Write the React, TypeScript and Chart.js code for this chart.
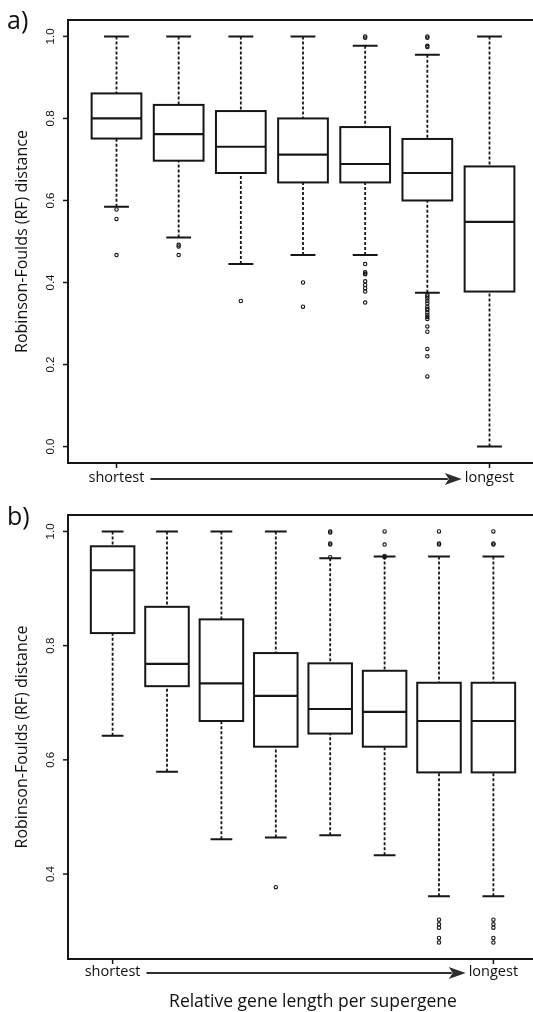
import React, { useEffect, useRef } from 'react';
import { Chart, registerables } from 'chart.js';

Chart.register(...registerables);

// ---------- Panel a) : 7 groups ----------
const topGroups = ['1', '2', '3', '4', '5', '6', '7'];
const topWhiskerHigh = [1.0, 1.0, 1.0, 1.0, 0.977, 0.955, 1.0];
const topQ3 = [0.861, 0.833, 0.818, 0.8, 0.779, 0.75, 0.683];
const topMedian = [0.8, 0.762, 0.731, 0.712, 0.689, 0.667, 0.548];
const topQ1 = [0.751, 0.697, 0.667, 0.644, 0.644, 0.6, 0.378];
const topWhiskerLow = [0.585, 0.51, 0.445, 0.467, 0.467, 0.375, 0.0];
const topOutliers = [
  [0.578, 0.555, 0.467],
  [0.492, 0.488, 0.467],
  [0.355],
  [0.4, 0.341],
  [1.0, 0.997, 0.445, 0.425, 0.422, 0.42, 0.403, 0.394, 0.386, 0.378, 0.351],
  [1.0, 0.997, 0.977, 0.974, 0.37, 0.366, 0.361, 0.355, 0.349, 0.341, 0.336, 0.333, 0.327, 0.321, 0.316, 0.311, 0.293, 0.28, 0.238, 0.22, 0.171],
  [],
];
const topYTicks = [0.0, 0.2, 0.4, 0.6, 0.8, 1.0];
const topYTickLabels = ['0.0', '0.2', '0.4', '0.6', '0.8', '1.0'];

// ---------- Panel b) : 8 groups ----------
const bottomGroups = ['1', '2', '3', '4', '5', '6', '7', '8'];
const bottomWhiskerHigh = [1.0, 1.0, 1.0, 1.0, 0.953, 0.956, 0.956, 0.956];
const bottomQ3 = [0.974, 0.868, 0.846, 0.787, 0.769, 0.756, 0.735, 0.735];
const bottomMedian = [0.932, 0.768, 0.734, 0.712, 0.689, 0.684, 0.668, 0.668];
const bottomQ1 = [0.822, 0.729, 0.668, 0.623, 0.646, 0.623, 0.578, 0.578];
const bottomWhiskerLow = [0.642, 0.579, 0.461, 0.464, 0.468, 0.433, 0.361, 0.361];
const bottomOutliers = [
  [],
  [],
  [],
  [0.377],
  [1.0, 0.998, 0.979, 0.977, 0.955],
  [1.0, 0.977, 0.957, 0.955],
  [1.0, 0.979, 0.977, 0.32, 0.312, 0.306, 0.288, 0.28],
  [1.0, 0.979, 0.977, 0.32, 0.312, 0.306, 0.288, 0.28],
];
const bottomYTicks = [0.4, 0.6, 0.8, 1.0];
const bottomYTickLabels = ['0.4', '0.6', '0.8', '1.0'];

const xEndLabels = ['shortest', 'longest'];
const yTitle = 'Robinson-Foulds (RF) distance';
const xTitle = 'Relative gene length per supergene';

const INK = '#161616';
const TEXT = '#111';
const LABEL_FONT = '"Open Sans", "Liberation Sans", sans-serif';
const TICK_FONT = '"Liberation Sans", Arial, sans-serif';

const boxPlugin = {
  id: 'rbox',
  beforeDatasetsDraw(chart: any) {
    const o = chart.options.plugins.rbox;
    const { ctx } = chart;
    const x = chart.scales.x;
    const y = chart.scales.y;
    const unit = x.getPixelForValue(2) - x.getPixelForValue(1);
    const halfW = unit * 0.4;
    const capHalf = halfW / 2;
    ctx.save();
    ctx.strokeStyle = INK;
    for (let i = 0; i < o.q1.length; i++) {
      const cx = x.getPixelForValue(i + 1);
      const pHi = y.getPixelForValue(o.hi[i]);
      const pQ3 = y.getPixelForValue(o.q3[i]);
      const pMed = y.getPixelForValue(o.med[i]);
      const pQ1 = y.getPixelForValue(o.q1[i]);
      const pLo = y.getPixelForValue(o.lo[i]);
      // dashed whiskers
      ctx.lineWidth = 1.8;
      ctx.setLineDash([3, 2]);
      ctx.beginPath();
      ctx.moveTo(cx, pHi);
      ctx.lineTo(cx, pQ3);
      ctx.moveTo(cx, pLo);
      ctx.lineTo(cx, pQ1);
      ctx.stroke();
      ctx.setLineDash([]);
      // caps
      ctx.lineWidth = 2;
      ctx.beginPath();
      ctx.moveTo(cx - capHalf, pHi);
      ctx.lineTo(cx + capHalf, pHi);
      ctx.moveTo(cx - capHalf, pLo);
      ctx.lineTo(cx + capHalf, pLo);
      ctx.stroke();
      // box
      ctx.fillStyle = '#ffffff';
      ctx.fillRect(cx - halfW, pQ3, 2 * halfW, pQ1 - pQ3);
      ctx.lineWidth = 2;
      ctx.strokeRect(cx - halfW, pQ3, 2 * halfW, pQ1 - pQ3);
      // median
      ctx.lineWidth = 2.2;
      ctx.beginPath();
      ctx.moveTo(cx - halfW, pMed);
      ctx.lineTo(cx + halfW, pMed);
      ctx.stroke();
    }
    ctx.restore();
  },
  afterDraw(chart: any) {
    const o = chart.options.plugins.rbox;
    const { ctx, chartArea: a } = chart;
    const x = chart.scales.x;
    const y = chart.scales.y;
    ctx.save();
    // frame
    ctx.strokeStyle = INK;
    ctx.lineWidth = 2;
    ctx.strokeRect(a.left, a.top, a.right - a.left, a.bottom - a.top);
    // y ticks
    ctx.lineWidth = 1.5;
    ctx.fillStyle = TEXT;
    ctx.font = `11.5px ${TICK_FONT}`;
    ctx.textAlign = 'center';
    ctx.textBaseline = 'middle';
    o.yTicks.forEach((v: number, i: number) => {
      const py = y.getPixelForValue(v);
      ctx.beginPath();
      ctx.moveTo(a.left - 5, py);
      ctx.lineTo(a.left, py);
      ctx.stroke();
      ctx.save();
      ctx.translate(a.left - 17, py);
      ctx.rotate(-Math.PI / 2);
      ctx.fillText(o.yTickLabels[i], 0, 0);
      ctx.restore();
    });
    // x ticks at first and last group
    const n = o.q1.length;
    const x1 = x.getPixelForValue(1);
    const xn = x.getPixelForValue(n);
    ctx.lineWidth = 1.5;
    ctx.beginPath();
    ctx.moveTo(x1, a.bottom);
    ctx.lineTo(x1, a.bottom + 5);
    ctx.moveTo(xn, a.bottom);
    ctx.lineTo(xn, a.bottom + 5);
    ctx.stroke();
    // end labels + arrow
    ctx.font = `14.5px ${LABEL_FONT}`;
    const ly = a.bottom + o.endLabelOffset;
    ctx.fillStyle = TEXT;
    ctx.fillText(xEndLabels[0], x1, ly);
    ctx.fillText(xEndLabels[1], xn, ly);
    const w0 = ctx.measureText(xEndLabels[0]).width;
    const w1 = ctx.measureText(xEndLabels[1]).width;
    const startX = x1 + w0 / 2 + 6;
    const tipX = xn - w1 / 2 - 3;
    ctx.strokeStyle = '#2e2e2e';
    ctx.fillStyle = '#2e2e2e';
    ctx.lineWidth = 2;
    ctx.beginPath();
    ctx.moveTo(startX, ly + 1);
    ctx.lineTo(tipX - 14, ly + 1);
    ctx.stroke();
    ctx.beginPath();
    ctx.moveTo(tipX, ly + 1);
    ctx.lineTo(tipX - 17, ly + 1 - 6);
    ctx.lineTo(tipX - 13, ly + 1);
    ctx.lineTo(tipX - 17, ly + 1 + 6);
    ctx.closePath();
    ctx.fill();
    // y title
    ctx.fillStyle = TEXT;
    ctx.font = `16px ${LABEL_FONT}`;
    ctx.save();
    ctx.translate(22, (a.top + a.bottom) / 2);
    ctx.rotate(-Math.PI / 2);
    ctx.fillText(yTitle, 0, 0);
    ctx.restore();
    // x title
    if (o.showXTitle) {
      ctx.font = `17.5px ${LABEL_FONT}`;
      ctx.fillText(xTitle, 313, a.bottom + 43);
    }
    // panel label
    ctx.font = `25px ${LABEL_FONT}`;
    ctx.textAlign = 'left';
    ctx.textBaseline = 'alphabetic';
    ctx.fillText(o.panelLabel, 7, o.panelLabelY);
    ctx.restore();
  },
};

type PanelProps = {
  top: number;
  height: number;
  padding: { left: number; top: number; right: number; bottom: number };
  groups: string[];
  hi: number[];
  q3: number[];
  med: number[];
  q1: number[];
  lo: number[];
  outliers: number[][];
  yTicks: number[];
  yTickLabels: string[];
  panelLabel: string;
  panelLabelY: number;
  endLabelOffset: number;
  showXTitle: boolean;
};

function rangeWithPad(lo: number, hi: number) {
  const d = (hi - lo) * 0.04;
  return [lo - d, hi + d];
}

function Panel(p: PanelProps) {
  const ref = useRef<HTMLCanvasElement>(null);
  useEffect(() => {
    if (!ref.current) return;
    const n = p.groups.length;
    const xr = rangeWithPad(0.5, n + 0.5);
    const all: number[] = [...p.hi, ...p.lo, ...p.outliers.flat()];
    const yr = rangeWithPad(Math.min(...all), Math.max(...all));
    const pts: { x: number; y: number }[] = [];
    p.outliers.forEach((arr, i) => arr.forEach((v) => pts.push({ x: i + 1, y: v })));
    const chart = new Chart(ref.current, {
      type: 'scatter',
      data: {
        datasets: [
          {
            data: pts,
            pointRadius: 1.7,
            pointBorderWidth: 1.1,
            borderColor: INK,
            backgroundColor: 'rgba(0,0,0,0)',
            pointHoverRadius: 1.7,
          },
        ],
      },
      options: {
        animation: false,
        responsive: false,
        events: [],
        layout: { padding: p.padding },
        scales: {
          x: { type: 'linear', display: false, min: xr[0], max: xr[1] },
          y: { type: 'linear', display: false, min: yr[0], max: yr[1] },
        },
        plugins: {
          legend: { display: false },
          tooltip: { enabled: false },
          rbox: {
            hi: p.hi,
            q3: p.q3,
            med: p.med,
            q1: p.q1,
            lo: p.lo,
            yTicks: p.yTicks,
            yTickLabels: p.yTickLabels,
            panelLabel: p.panelLabel,
            panelLabelY: p.panelLabelY,
            endLabelOffset: p.endLabelOffset,
            showXTitle: p.showXTitle,
          },
        } as any,
      },
      plugins: [boxPlugin],
    });
    return () => chart.destroy();
  }, []);
  return (
    <canvas
      ref={ref}
      width={560}
      height={p.height}
      style={{ position: 'absolute', left: 0, top: p.top, width: 560, height: p.height }}
    />
  );
}

export default function App() {
  return (
    <div
      style={{
        position: 'absolute',
        left: 0,
        top: 0,
        width: 533,
        height: 1012,
        overflow: 'hidden',
        background: '#fff',
      }}
    >
      <Panel
        top={0}
        height={500}
        padding={{ left: 68, top: 20, right: 22, bottom: 37 }}
        groups={topGroups}
        hi={topWhiskerHigh}
        q3={topQ3}
        med={topMedian}
        q1={topQ1}
        lo={topWhiskerLow}
        outliers={topOutliers}
        yTicks={topYTicks}
        yTickLabels={topYTickLabels}
        panelLabel="a)"
        panelLabelY={29}
        endLabelOffset={15}
        showXTitle={false}
      />
      <Panel
        top={500}
        height={512}
        padding={{ left: 68, top: 15, right: 22, bottom: 53 }}
        groups={bottomGroups}
        hi={bottomWhiskerHigh}
        q3={bottomQ3}
        med={bottomMedian}
        q1={bottomQ1}
        lo={bottomWhiskerLow}
        outliers={bottomOutliers}
        yTicks={bottomYTicks}
        yTickLabels={bottomYTickLabels}
        panelLabel="b)"
        panelLabelY={25}
        endLabelOffset={13}
        showXTitle={true}
      />
    </div>
  );
}
